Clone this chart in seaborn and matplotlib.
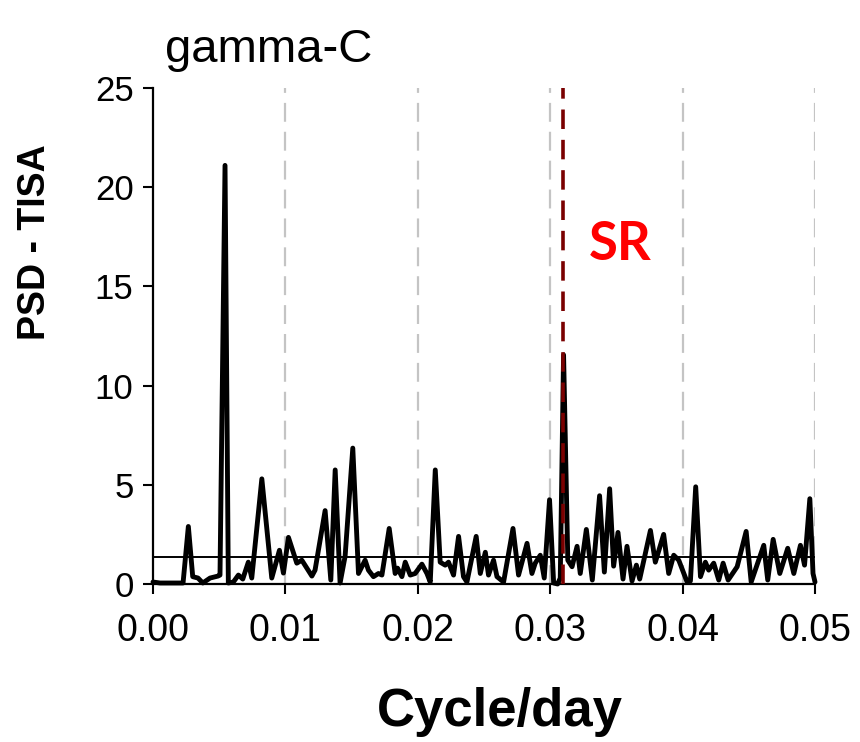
import matplotlib
matplotlib.use("Agg")
import matplotlib.pyplot as plt
import seaborn as sns
import pandas as pd

# ---- data ----
freq = [0.00000, 0.00053, 0.00227, 0.00267, 0.00300, 0.00340, 0.00376, 0.00431, 0.00491, 0.00506,
        0.00544, 0.00569, 0.00607, 0.00645, 0.00678, 0.00720, 0.00746, 0.00822, 0.00897, 0.00955,
        0.00985, 0.01023, 0.01086, 0.01124, 0.01200, 0.01224, 0.01300, 0.01343, 0.01376, 0.01413,
        0.01451, 0.01509, 0.01552, 0.01602, 0.01627, 0.01665, 0.01703, 0.01729, 0.01784, 0.01829,
        0.01847, 0.01880, 0.01905, 0.01943, 0.01980, 0.02031, 0.02069, 0.02094, 0.02132, 0.02169,
        0.02207, 0.02232, 0.02270, 0.02308, 0.02345, 0.02371, 0.02441, 0.02472, 0.02510, 0.02534,
        0.02572, 0.02598, 0.02648, 0.02719, 0.02761, 0.02825, 0.02862, 0.02887, 0.02925, 0.02955,
        0.02995, 0.03026, 0.03056, 0.03076, 0.03101, 0.03133, 0.03165, 0.03203, 0.03227, 0.03273,
        0.03318, 0.03373, 0.03409, 0.03449, 0.03479, 0.03512, 0.03550, 0.03580, 0.03618, 0.03651,
        0.03676, 0.03757, 0.03794, 0.03857, 0.03895, 0.03933, 0.03971, 0.04034, 0.04059, 0.04099,
        0.04135, 0.04172, 0.04197, 0.04235, 0.04273, 0.04306, 0.04344, 0.04412, 0.04480, 0.04518,
        0.04613, 0.04643, 0.04684, 0.04734, 0.04794, 0.04840, 0.04890, 0.04921, 0.04961, 0.04985,
        0.05000]
psd = [0.10, 0.05, 0.05, 2.90, 0.37, 0.30, 0.05, 0.30, 0.40, 0.45,
       21.10, 0.05, 0.10, 0.45, 0.25, 1.10, 0.30, 5.30, 0.30, 1.70,
       0.55, 2.35, 1.05, 1.20, 0.40, 0.70, 3.70, 0.20, 5.75, 0.05,
       1.40, 6.85, 0.53, 1.20, 0.70, 0.37, 0.53, 0.45, 2.80, 0.53,
       0.80, 0.37, 1.10, 0.45, 0.53, 1.00, 0.53, 0.10, 5.75, 1.10,
       0.95, 1.10, 0.45, 2.40, 0.37, 0.10, 2.40, 0.53, 1.60, 0.45,
       1.20, 0.37, 0.10, 2.80, 0.45, 2.05, 0.53, 1.05, 1.45, 0.30,
       4.25, 0.05, 0.00, 0.30, 11.55, 1.20, 0.87, 1.90, 0.53, 2.75,
       0.20, 4.45, 0.60, 4.80, 0.90, 2.60, 0.25, 1.90, 0.15, 0.95,
       0.25, 2.70, 1.10, 2.50, 0.53, 1.45, 1.20, 0.10, 0.15, 4.90,
       0.37, 1.10, 0.70, 1.05, 0.20, 1.05, 0.20, 0.87, 2.65, 0.10,
       1.95, 0.20, 2.25, 0.53, 1.80, 0.53, 1.95, 0.95, 4.30, 0.53,
       0.10]
threshold = 1.35
sr_freq = 0.0310
x_ticks = [0.00, 0.01, 0.02, 0.03, 0.04, 0.05]
x_tick_labels = ["0.00", "0.01", "0.02", "0.03", "0.04", "0.05"]
y_ticks = [0, 5, 10, 15, 20, 25]
grid_x = [0.01, 0.02, 0.03, 0.04, 0.05]
title = "gamma-C"
x_label = "Cycle/day"
y_label = "PSD - TISA"
sr_label = "SR"

sns.set_theme(style="ticks")
plt.rcParams["font.family"] = ["Liberation Sans", "DejaVu Sans"]
plt.rcParams["text.color"] = "black"
plt.rcParams["xtick.color"] = "black"
plt.rcParams["ytick.color"] = "black"

fig = plt.figure(figsize=(8.6, 7.42), dpi=100)
ax = fig.add_axes([153 / 860, 1 - 584 / 742, (815 - 153) / 860, (584 - 88) / 742])

# gray dashed vertical guides
for gx in grid_x:
    ax.axvline(gx, color="#c4c4c4", lw=1.6, dashes=(8.5, 4.5), zorder=1)

df = pd.DataFrame({"freq": freq, "psd": psd})
sns.lineplot(data=df, x="freq", y="psd", ax=ax, color="black", linewidth=3.5,
             estimator=None, sort=False, zorder=3, clip_on=False)
for ln in ax.get_lines():
    ln.set_solid_joinstyle("round")

ax.axhline(threshold, color="black", lw=1.4, zorder=2)
ax.axvline(sr_freq, color="#7a0000", lw=2.6, dashes=(5.4, 3.0), zorder=4)

ax.text(0.0353, 17.1, sr_label, color="#ff0000", fontsize=38, fontweight="bold",
        family=["Lato", "DejaVu Sans"], ha="center", va="center")

ax.set_xlim(0, 0.05)
ax.set_ylim(0, 25)
ax.set_xticks(x_ticks)
ax.set_xticklabels(x_tick_labels)
ax.set_yticks(y_ticks)
ax.set_xlabel("")
ax.set_ylabel("")
ax.tick_params(axis="x", labelsize=27, length=7, width=1.5, pad=14, colors="black")
ax.tick_params(axis="y", labelsize=25, length=7, width=1.5, pad=7, colors="black")
for s in ["top", "right"]:
    ax.spines[s].set_visible(False)
for s in ["left", "bottom"]:
    ax.spines[s].set_color("black")
    ax.spines[s].set_linewidth(1.6)

fig.text(165 / 860, 1 - 62 / 742, title, fontsize=34, color="black", ha="left", va="baseline")
fig.text(500 / 860, 1 - 712 / 742, x_label, fontsize=38, fontweight="bold", color="black",
         ha="center", va="center")
fig.text(35 / 860, 1 - 242 / 742, y_label, fontsize=27, fontweight="bold", color="black",
         rotation=90, ha="center", va="center")

fig.savefig("out.png", dpi=100)
